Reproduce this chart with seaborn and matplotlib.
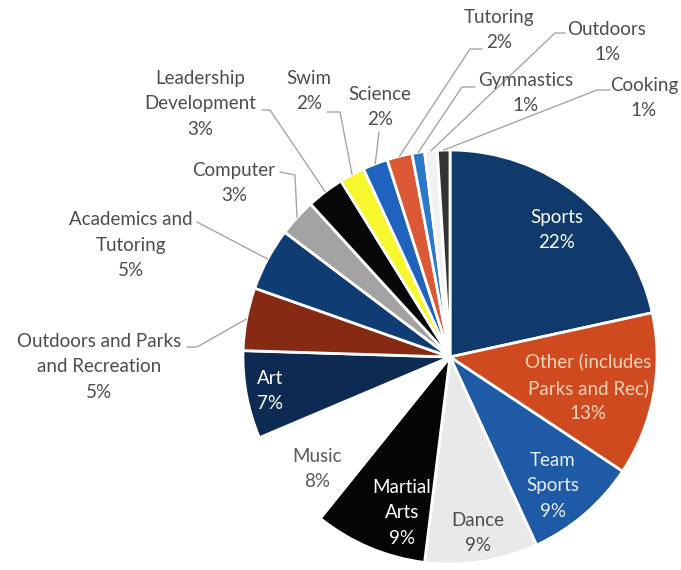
import matplotlib
matplotlib.use("Agg")
import matplotlib.pyplot as plt
import seaborn as sns
import numpy as np

# ---------------- data ----------------
categories = ["Sports", "Other (includes\nParks and Rec)", "Team\nSports", "Dance",
              "Martial\nArts", "Music", "Art", "Outdoors and Parks\nand Recreation",
              "Academics and\nTutoring", "Computer", "Leadership\nDevelopment", "Swim",
              "Science", "Tutoring", "Gymnastics", "Outdoors", "Cooking"]
percent = [22, 13, 9, 9, 9, 8, 7, 5, 5, 3, 3, 2, 2, 2, 1, 1, 1]
colors = ["#0f3a6b", "#cf4a1f", "#1e5aa6", "#e9e9e9", "#050505", "#ffffff", "#0d2a52",
          "#872a13", "#0f3c72", "#a3a3a3", "#070707", "#f7f72e", "#1f63be", "#dc5836",
          "#2c79cc", "#f1f1f1", "#333333"]
text_colors = ["#ffffff", "#fbd3b8", "#e8eef8", "#4d4d4d", "#ffffff", "#595959", "#ffffff",
               "#4d4d4d", "#4d4d4d", "#4d4d4d", "#4d4d4d", "#4d4d4d", "#4d4d4d", "#4d4d4d",
               "#4d4d4d", "#4d4d4d", "#4d4d4d"]

# ---------------- layout (pixels, y downward) ----------------
W, H = 681, 570
CENTER = (450, 357)
RADIUS = 207
label_pos = [(557, 230), (588, 387), (553, 486), (478, 533), (402, 513), (317, 469),
             (270, 391), (99, 367), (131, 245), (234, 183), (200, 104), (309, 91),
             (380, 107), (499, 30), (526, 93), (607, 42), (644, 98)]
leader_pts = {7: [(187, 347), (197, 347)],
              8: [(197, 222)],
              9: [(280, 172), (295, 175)],
              10: [(262, 110), (270, 110)],
              11: [(327, 112), (340, 112)],
              12: [(379, 132)],
              13: [(482, 49), (470, 49)],
              14: [(475, 87), (462, 87)],
              15: [(565, 33), (555, 33)],
              16: [(610, 90), (597, 90)]}

sns.set_theme(style="white")
plt.rcParams["font.family"] = ["Lato", "DejaVu Sans"]

fig = plt.figure(figsize=(W / 100, H / 100), dpi=100)
ax = fig.add_axes([0, 0, 1, 1])

wedges, _ = ax.pie(percent, colors=colors, startangle=90, counterclock=False,
                   center=(CENTER[0], H - CENTER[1]), radius=RADIUS,
                   explode=[0.015] * len(percent),
                   wedgeprops=dict(edgecolor="white", linewidth=2))

ax.set_xlim(0, W)
ax.set_ylim(0, H)
ax.set_aspect("equal")
ax.axis("off")

for i, (cat, pct) in enumerate(zip(categories, percent)):
    x, y = label_pos[i]
    ax.text(x, H - y, f"{cat}\n{pct}%", ha="center", va="center", fontsize=13.5,
            color=text_colors[i], linespacing=1.58)
    if i in leader_pts:
        w = wedges[i]
        th = np.deg2rad((w.theta1 + w.theta2) / 2)
        ex = w.center[0] + w.r * np.cos(th)
        ey = w.center[1] + w.r * np.sin(th)
        xs = [p[0] for p in leader_pts[i]] + [ex]
        ys = [H - p[1] for p in leader_pts[i]] + [ey]
        ax.plot(xs, ys, color="#a6a6a6", lw=1)

fig.savefig("out.png", dpi=100, facecolor="white")
